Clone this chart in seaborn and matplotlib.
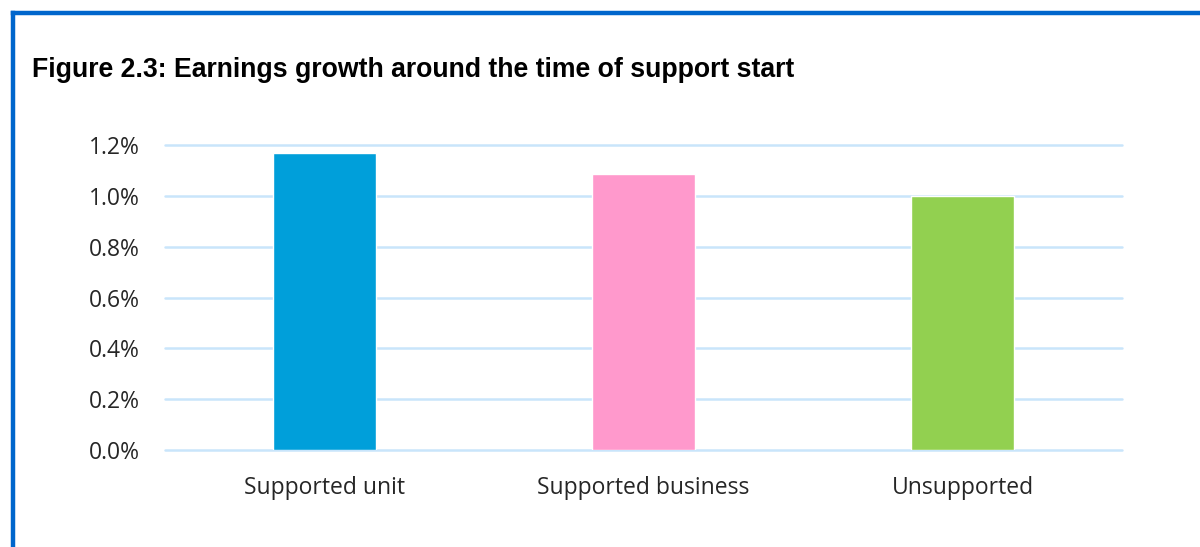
import matplotlib
matplotlib.use("Agg")
import matplotlib.pyplot as plt
from matplotlib.lines import Line2D
from matplotlib.ticker import PercentFormatter, MultipleLocator
import seaborn as sns
import pandas as pd

# Earnings growth by support status (percent)
groups = ["Supported unit", "Supported business", "Unsupported"]
growth_pct = [1.17, 1.085, 1.0]
bar_colors = ["#009FDA", "#FF99CC", "#92D050"]
title = "Figure 2.3: Earnings growth around the time of support start"

sns.set_theme(style="white")
plt.rcParams["font.family"] = ["Open Sans", "DejaVu Sans"]

df = pd.DataFrame({"group": groups, "growth": growth_pct})

fig = plt.figure(figsize=(12, 5.47), dpi=100)
ax = fig.add_axes([0.1375, 0.1773, 0.7975, 0.5576])

sns.barplot(data=df, x="group", y="growth", hue="group", palette=bar_colors,
            width=0.32, legend=False, ax=ax, saturation=1)

ax.set_xlim(-0.5, 2.5)
ax.set_ylim(0, 1.2)
ax.yaxis.set_major_locator(MultipleLocator(0.2))
ax.yaxis.set_major_formatter(PercentFormatter(xmax=100, decimals=1))
ax.set_axisbelow(True)
ax.grid(axis="y", color="#C9E5FB", linewidth=1.8)
ax.grid(axis="x", visible=False)
for gl in ax.get_ygridlines():
    gl.set_clip_on(False)
for s in ax.spines.values():
    s.set_visible(False)
ax.set_xlabel("")
ax.set_ylabel("")
ax.tick_params(axis="both", length=0, labelsize=16.5, labelcolor="#262626")
ax.tick_params(axis="y", pad=18)
ax.tick_params(axis="x", pad=19)

fig.text(32 / 1200, 1 - 77 / 547, title, fontsize=19.2, fontweight="bold",
         family=["Liberation Sans", "DejaVu Sans"], color="black",
         ha="left", va="baseline")

# frame lines along the top and left edges
fig.add_artist(Line2D([12.5 / 1200, 12.5 / 1200], [0, 1 - 12.5 / 547],
                      color="#0066CC", linewidth=3.2, solid_capstyle="projecting"))
fig.add_artist(Line2D([12.5 / 1200, 1], [1 - 12.5 / 547, 1 - 12.5 / 547],
                      color="#0066CC", linewidth=3.2, solid_capstyle="projecting"))

fig.savefig("out.png", dpi=100, facecolor="white")
